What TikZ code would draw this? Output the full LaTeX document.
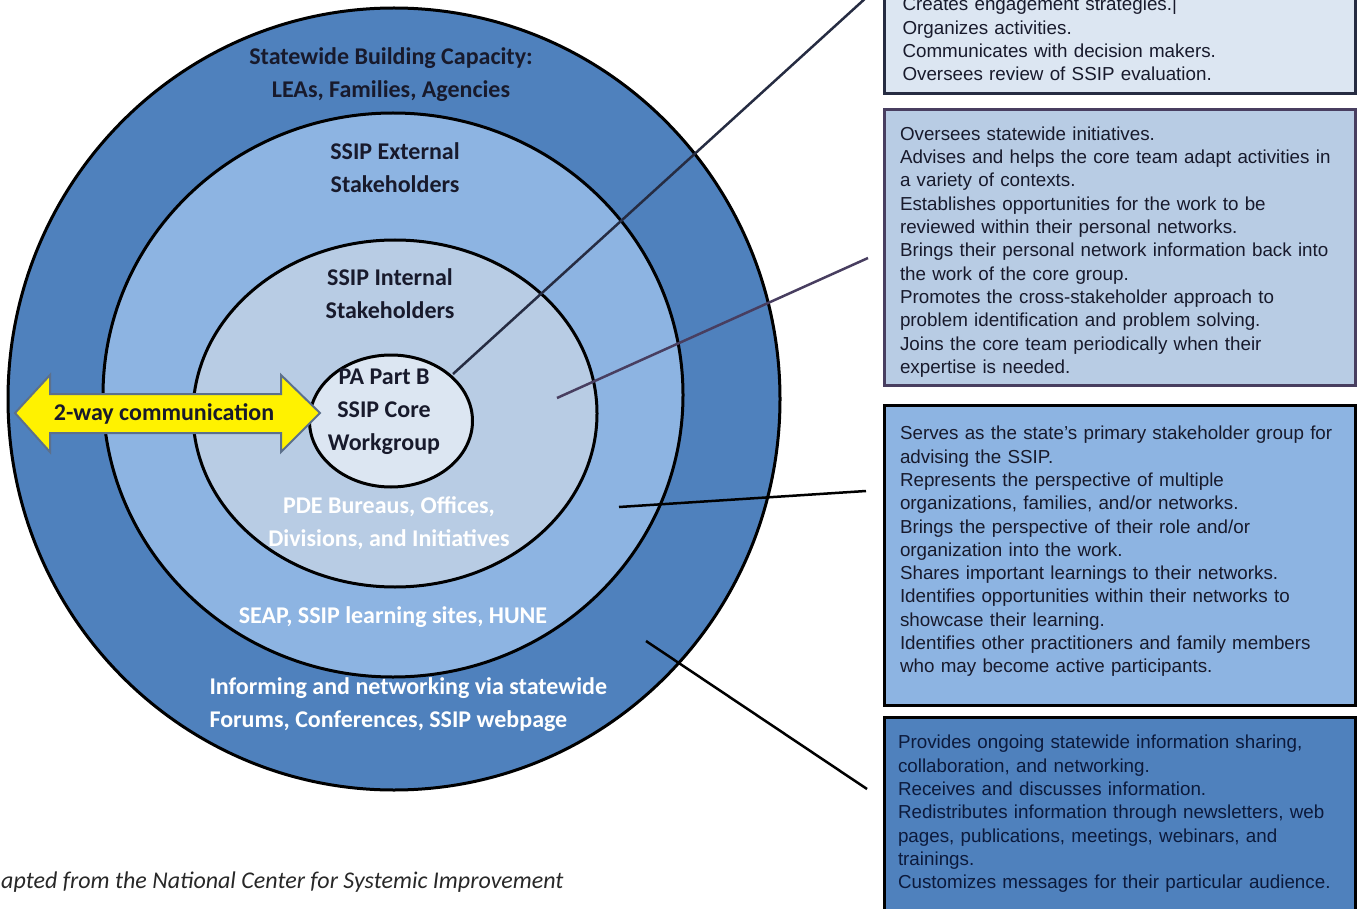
\documentclass[tikz,border=0pt]{standalone}
\usepackage{fontspec}
\setmainfont{Liberation Sans}
\newfontfamily\calibri{Carlito}
\usetikzlibrary{shapes.geometric,positioning}
\definecolor{ringdark}{RGB}{79,129,189}
\definecolor{ringmid}{RGB}{141,180,226}
\definecolor{ringlight}{RGB}{184,204,228}
\definecolor{ringpale}{RGB}{220,230,242}
\definecolor{navytext}{RGB}{24,26,44}
\definecolor{boxnavy}{RGB}{12,26,60}
\definecolor{slateline}{RGB}{38,44,66}
\definecolor{plumline}{RGB}{72,62,96}
\definecolor{arrowrim}{RGB}{92,112,140}
\definecolor{captiongray}{RGB}{40,40,40}

\begin{document}
\begin{tikzpicture}[
			x=1pt, y=-1pt,
			ring/.style={draw=black, line width=3pt, ellipse, inner sep=0pt},
			ringlabel/.style={font=\calibri\bfseries\fontsize{24}{33}\selectfont, align=center, text=navytext},
			whitelabel/.style={ringlabel, text=white},
			box/.style={draw, line width=3pt, text width=450pt, inner xsep=10.5pt, align=left, font=\fontsize{18.8}{23.3}\selectfont, text=navytext},
			leader/.style={line width=2.5pt}
		]
		\useasboundingbox (0,0) rectangle (1362,909);

		\node[ring, fill=ringdark, minimum width=772, minimum height=782] (statering) at (394,399) {};
		\node[ring, fill=ringmid, minimum width=580, minimum height=564] (extring) at (393,395) {};
		\node[ring, fill=ringlight, minimum width=404, minimum height=347] (intring) at (395,413.5) {};
		\node[ring, fill=ringpale, minimum width=163, minimum height=132] (core) at (391,421) {};

		\node[ringlabel] (statelabel) at (391,74.5) {Statewide Building Capacity:\\LEAs, Families, Agencies};
		\node[ringlabel] (extlabel) at (395,167.5) {SSIP External\\Stakeholders};
		\node[ringlabel] (intlabel) at (390,293.5) {SSIP Internal\\Stakeholders};
		\node[ringlabel] (corelabel) at (384,411.5) {PA Part B\\SSIP Core\\Workgroup};
		\node[whitelabel] (pdelabel) at (389,523) {PDE Bureaus, Offices,\\Divisions, and Initiatives};
		\node[whitelabel] (seaplabel) at (393,617) {SEAP, SSIP learning sites, HUNE};
		\node[whitelabel, align=left, anchor=west] (forumlabel) at (206,705) {Informing and networking via statewide\\Forums, Conferences, SSIP webpage};

		\draw[draw=arrowrim, line width=2pt, fill=yellow] (15,413) -- (50,375) -- (50,394) -- (281,394) -- (281,375) -- (320,413)
			-- (281,452) -- (281,433) -- (50,433) -- (50,452) -- cycle;
		\node[ringlabel] (commlabel) at (164,414) {2-way communication};

		\node[box, draw=slateline, fill=ringpale, minimum height=110] (corebox) at (1119.5,39) {\leftskip=8pt Creates engagement strategies.|\\
			Organizes activities.\\
			Communicates with decision makers.\\
			Oversees review of SSIP evaluation.\par};
		\node[box, draw=plumline, fill=ringlight, minimum height=275] (internalbox) at (1119.5,247.5) {\leftskip=5.5pt Oversees statewide initiatives.\\
			Advises and helps the core team adapt activities in\\
			a variety of contexts.\\
			Establishes opportunities for the work to be\\
			reviewed within their personal networks.\\
			Brings their personal network information back into\\
			the work of the core group.\\
			Promotes the cross-stakeholder approach to\\
			problem identification and problem solving.\\
			Joins the core team periodically when their\\
			expertise is needed.\par\vspace*{-9pt}};
		\node[box, draw=black, fill=ringmid, minimum height=300] (externalbox) at (1119.5,555) {\leftskip=5.5pt Serves as the state’s primary stakeholder group for\\
			advising the SSIP.\\
			Represents the perspective of multiple\\
			organizations, families, and/or networks.\\
			Brings the perspective of their role and/or\\
			organization into the work.\\
			Shares important learnings to their networks.\\
			Identifies opportunities within their networks to\\
			showcase their learning.\\
			Identifies other practitioners and family members\\
			who may become active participants.\par\vspace*{7pt}};
		\node[box, draw=black, fill=ringdark, text=boxnavy, minimum height=208] (statebox) at (1119.5,821) {\leftskip=3.5pt Provides ongoing statewide information sharing,\\
			collaboration, and networking.\\
			Receives and discusses information.\\
			Redistributes information through newsletters, web\\
			pages, publications, meetings, webinars, and\\
			trainings.\\
			Customizes messages for their particular audience.\par\vspace*{14pt}};

		\coordinate (coretip) at (453,374);
		\coordinate (coreend) at (868,-4);
		\coordinate (inttip) at (557,398);
		\coordinate (intend) at (868,258);
		\coordinate (exttip) at (619,507);
		\coordinate (extend) at (866,491);
		\coordinate (statetip) at (646,641);
		\coordinate (stateend) at (867,789);
		\draw[leader, draw=slateline] (coretip) -- (coreend);
		\draw[leader, draw=plumline] (inttip) -- (intend);
		\draw[leader, draw=black] (exttip) -- (extend);
		\draw[leader, draw=black] (statetip) -- (stateend);

		\node[font=\calibri\itshape\fontsize{24}{28}\selectfont, text=captiongray, anchor=west, inner sep=0pt] (caption) at (1,882) {apted from the National Center for Systemic Improvement};

	\end{tikzpicture}
\end{document}
